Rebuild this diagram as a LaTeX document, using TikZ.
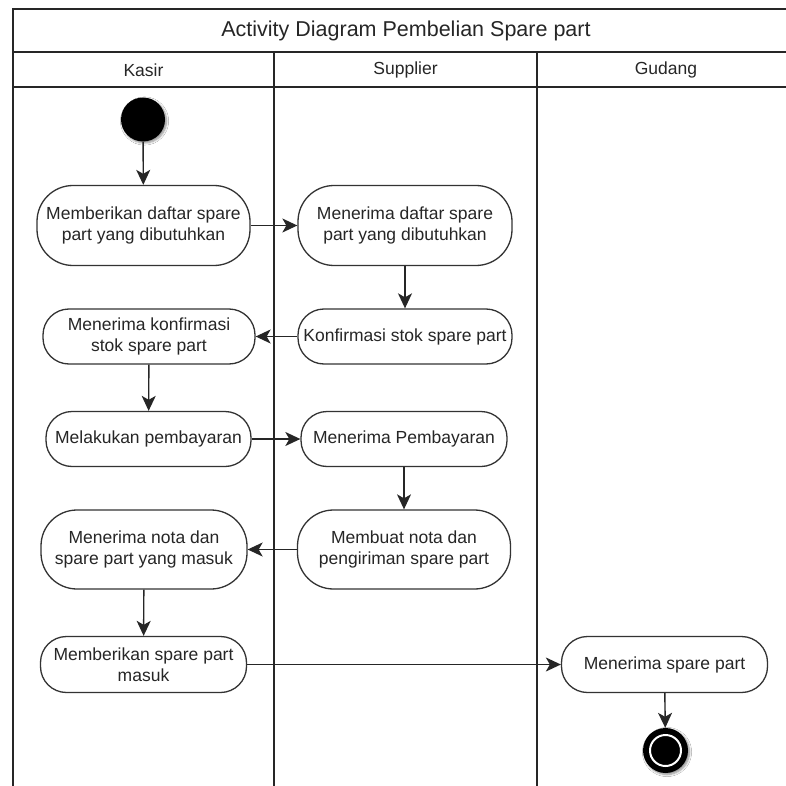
\documentclass[tikz,border=0pt]{standalone}
\usepackage{fontspec}
\setmainfont{Liberation Sans}
\usetikzlibrary{arrows.meta,shadows.blur}
\begin{document}
\begin{tikzpicture}[x=1pt,y=-1pt,
  lane/.style={draw=black!85, line width=1.5pt},
  act/.style={draw=black!80, line width=1.3pt, fill=white, inner sep=0pt,
    align=center, text=black!85, font=\fontsize{17.5}{21.5}\selectfont},
  tallact/.style={act, minimum height=80pt, rounded corners=36pt},
  flatact/.style={act, minimum height=55pt, rounded corners=26pt},
  flow/.style={draw=black!85, line width=1.4pt,
    -{Stealth[length=15pt,width=14pt,inset=4pt]}},
  lanelabel/.style={font=\fontsize{17.5}{21}\selectfont, text=black!85},
  softshadow/.style={blur shadow={shadow xshift=1.5pt, shadow yshift=-1.5pt,
    shadow blur steps=6, shadow opacity=45}}
]
\useasboundingbox (0,0) rectangle (786,786);
\clip (0,0) rectangle (786,786);
\fill[white] (0,0) rectangle (786,786);

% swimlane frame
\draw[lane] (13,786) -- (13,9) -- (800,9);
\draw[lane] (13,52) -- (800,52);
\draw[lane] (13,87) -- (800,87);
\draw[lane] (274,52) -- (274,786);
\draw[lane] (537,52) -- (537,786);

\node[font=\fontsize{21.5}{26}\selectfont, text=black!85] (title) at (406,31)
  {Activity Diagram Pembelian Spare part};
\node[lanelabel] (kasir) at (143.5,70) {Kasir};
\node[lanelabel] (supplier) at (405.5,70) {Supplier};
\node[lanelabel] (gudang) at (666,70) {Gudang};

% initial state
\node[circle, fill=black, minimum size=44pt, inner sep=0pt, softshadow]
  (start) at (143,119.5) {};

% activities
\node[tallact, minimum width=213pt] (n1) at (143.5,225.5)
  {Memberikan daftar spare\\part yang dibutuhkan};
\node[tallact, minimum width=214pt] (n2) at (405,225.5)
  {Menerima daftar spare\\part yang dibutuhkan};
\node[flatact, minimum width=214pt] (n3) at (405,336.5)
  {Konfirmasi stok spare part};
\node[flatact, minimum width=212pt] (n4) at (149,336.5)
  {Menerima konfirmasi\\stok spare part};
\node[flatact, minimum width=205pt] (n5) at (148.5,439)
  {Melakukan pembayaran};
\node[flatact, minimum width=206pt] (n6) at (404,439)
  {Menerima Pembayaran};
\node[tallact, minimum width=213pt, minimum height=79pt] (n7) at (404,549.5)
  {Membuat nota dan\\pengiriman spare part};
\node[tallact, minimum width=206pt, minimum height=79pt] (n8) at (144,549.5)
  {Menerima nota dan\\spare part yang masuk};
\node[flatact, minimum width=206pt, minimum height=56pt] (n9) at (143.5,664.5)
  {Memberikan spare part\\masuk};
\node[flatact, minimum width=206pt, minimum height=56pt] (n10) at (664.5,664.5)
  {Menerima spare part};

% final state
\node[circle, fill=black, minimum size=45pt, inner sep=0pt, softshadow]
  (end) at (665.5,750.5) {};
\draw[white, line width=2pt] (end.center) circle[radius=15.5pt];

% control flow
\draw[flow] (start) -- (n1);
\draw[flow] (n1) -- (n2);
\draw[flow] (n2) -- (n3);
\draw[flow] (n3) -- (n4);
\draw[flow] (n4) -- (n5);
\draw[flow] (n5) -- (n6);
\draw[flow] (n6) -- (n7);
\draw[flow] (n7) -- (n8);
\draw[flow] (n8) -- (n9);
\draw[flow] (n9) -- (n10);
\draw[flow] (n10) -- (end);
\end{tikzpicture}
\end{document}
